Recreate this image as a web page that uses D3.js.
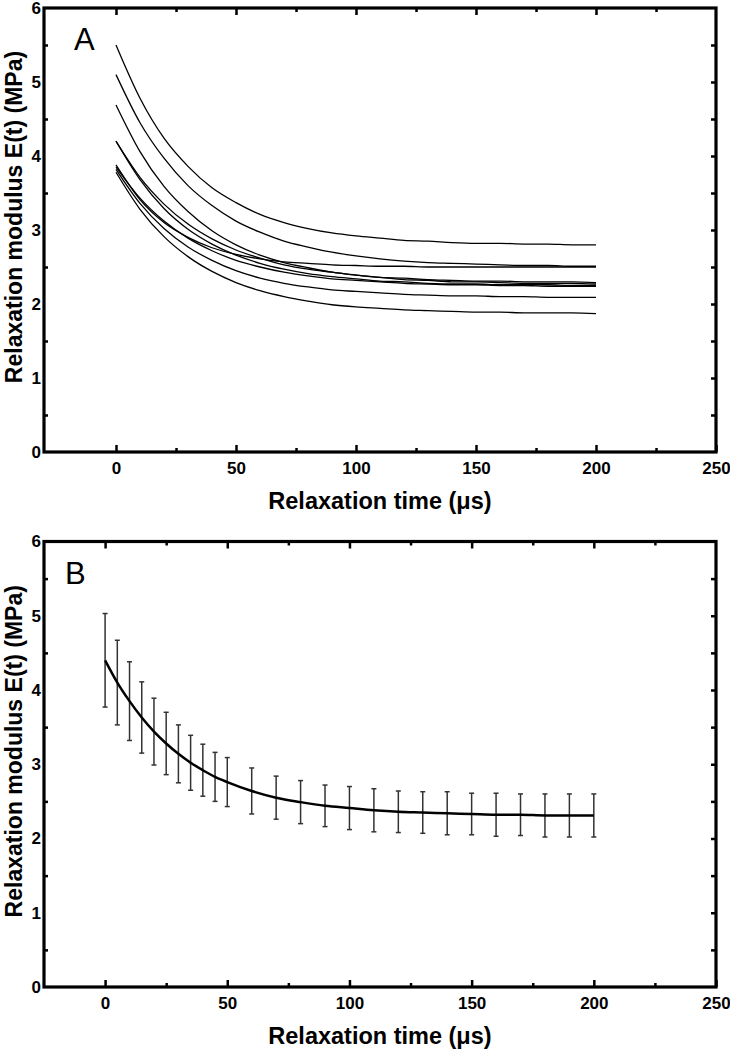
<!DOCTYPE html>
<html><head><meta charset="utf-8">
<script src="https://cdn.jsdelivr.net/npm/d3@7"></script>
<style>
body{margin:0;background:#fff}
svg{display:block}
text{font-family:"Liberation Sans",Arial,Helvetica,sans-serif}
</style>
</head><body><div id="chart"></div>
<script>
// ---------- data ----------
const timeA = [0,10,20,30,40,50,60,70,80,90,100,110,120,130,140,150,160,170,180,190,200];
const curveA1 = [5.50,4.78,4.24,3.86,3.57,3.37,3.21,3.10,3.02,2.96,2.92,2.89,2.86,2.85,2.83,2.82,2.82,2.81,2.81,2.80,2.80];
const curveA2 = [5.10,4.45,3.97,3.60,3.33,3.12,2.97,2.85,2.77,2.70,2.65,2.61,2.58,2.56,2.55,2.54,2.53,2.52,2.52,2.51,2.51];
const curveA3 = [4.69,4.06,3.59,3.25,2.99,2.80,2.66,2.56,2.49,2.43,2.39,2.36,2.33,2.32,2.30,2.30,2.29,2.28,2.28,2.28,2.27];
const curveA4 = [4.20,3.71,3.35,3.08,2.88,2.73,2.62,2.53,2.47,2.43,2.39,2.36,2.35,2.33,2.32,2.31,2.31,2.30,2.30,2.30,2.29];
const curveA5 = [4.20,3.68,3.29,3.01,2.81,2.66,2.55,2.47,2.41,2.37,2.34,2.31,2.30,2.28,2.27,2.27,2.26,2.26,2.26,2.25,2.25];
const curveA6 = [3.88,3.41,3.10,2.90,2.76,2.67,2.61,2.57,2.55,2.53,2.52,2.51,2.51,2.50,2.50,2.50,2.50,2.50,2.50,2.50,2.50];
const curveA7 = [3.85,3.43,3.12,2.89,2.72,2.59,2.50,2.43,2.38,2.34,2.32,2.30,2.28,2.27,2.26,2.26,2.25,2.25,2.24,2.24,2.24];
const curveA8 = [3.82,3.36,3.02,2.77,2.59,2.45,2.35,2.28,2.23,2.19,2.17,2.15,2.13,2.12,2.11,2.11,2.10,2.10,2.09,2.09,2.09];
const curveA9 = [3.78,3.28,2.91,2.64,2.44,2.29,2.18,2.10,2.04,1.99,1.96,1.94,1.92,1.91,1.90,1.89,1.89,1.88,1.88,1.88,1.87];
const curvesA = [curveA1,curveA2,curveA3,curveA4,curveA5,curveA6,curveA7,curveA8,curveA9];

const timeB = [0,5,10,15,20,25,30,35,40,45,50,60,70,80,90,100,110,120,130,140,150,160,170,180,190,200];
const meanB = [4.40,4.10,3.85,3.63,3.44,3.28,3.14,3.02,2.92,2.83,2.76,2.64,2.55,2.49,2.44,2.41,2.38,2.36,2.35,2.34,2.33,2.32,2.32,2.31,2.31,2.31];
const errB  = [0.63,0.57,0.53,0.48,0.45,0.42,0.39,0.37,0.35,0.33,0.33,0.31,0.29,0.29,0.28,0.29,0.29,0.28,0.28,0.29,0.28,0.29,0.28,0.29,0.29,0.29];

const xMajorTicks = [0,50,100,150,200,250];
const xMinorTicks = [25,75,125,175,225];
const yMajorTicks = [0,1,2,3,4,5,6];
const yMinorTicks = [0.5,1.5,2.5,3.5,4.5,5.5];
const yAllTicks = [0.5,1,1.5,2,2.5,3,3.5,4,4.5,5,5.5];
const xTitle = "Relaxation time (\u03bcs)";
const yTitle = "Relaxation modulus E(t) (MPa)";
const panelLabels = ["A","B"];

// ---------- drawing ----------
const W = 730, H = 1050;
const svg = d3.select("#chart").append("svg").attr("width",W).attr("height",H);
svg.append("rect").attr("width",W).attr("height",H).attr("fill","#fff");

function styleAxis(g){
  g.select(".domain").remove();
  g.selectAll(".tick line").attr("stroke","#000").attr("stroke-width",2.5);
  g.selectAll(".tick text").attr("fill","#000").attr("font-size",17).attr("font-weight","bold")
    .attr("font-family","'Liberation Sans',Arial,sans-serif");
}

function panel(cfg){
  const x = d3.scaleLinear().domain(cfg.xDomain).range([44,716]);
  const y = d3.scaleLinear().domain([0,6]).range([cfg.bottom,cfg.top]);
  const g = svg.append("g");

  g.append("g").attr("transform",`translate(0,${cfg.bottom})`)
    .call(d3.axisBottom(x).tickValues(xMajorTicks).tickSizeInner(-7).tickSizeOuter(0).tickPadding(10).tickFormat(d3.format("d")))
    .call(styleAxis);
  g.append("g").attr("transform",`translate(0,${cfg.bottom})`)
    .call(d3.axisBottom(x).tickValues(xMinorTicks).tickSizeInner(-4).tickSizeOuter(0).tickFormat(""))
    .call(styleAxis);
  g.append("g").attr("transform",`translate(0,${cfg.top})`)
    .call(d3.axisTop(x).tickValues(xMajorTicks.slice(0,5)).tickSizeInner(-7).tickSizeOuter(0).tickFormat(""))
    .call(styleAxis);
  g.append("g").attr("transform",`translate(0,${cfg.top})`)
    .call(d3.axisTop(x).tickValues(xMinorTicks).tickSizeInner(-4).tickSizeOuter(0).tickFormat(""))
    .call(styleAxis);
  g.append("g").attr("transform",`translate(44,0)`)
    .call(d3.axisLeft(y).tickValues(yMajorTicks).tickSizeInner(0).tickSizeOuter(0).tickPadding(3).tickFormat(d3.format("d")))
    .call(styleAxis);
  g.append("g").attr("transform",`translate(44,0)`)
    .call(d3.axisLeft(y).tickValues(yMinorTicks).tickSizeInner(-4).tickSizeOuter(0).tickFormat(""))
    .call(styleAxis);
  g.append("g").attr("transform",`translate(716,0)`)
    .call(d3.axisRight(y).tickValues(yAllTicks).tickSizeInner(-5).tickSizeOuter(0).tickFormat(""))
    .call(styleAxis);

  g.append("rect").attr("x",44).attr("y",cfg.top).attr("width",672).attr("height",cfg.bottom-cfg.top)
    .attr("fill","none").attr("stroke","#000").attr("stroke-width",3.2);

  g.append("text").attr("x",380).attr("y",cfg.bottom+49).attr("dy","0.35em").attr("text-anchor","middle")
    .attr("font-size",23.5).attr("font-weight","bold").text(xTitle);
  g.append("text").attr("transform",`translate(14,${(cfg.top+cfg.bottom)/2-13}) rotate(-90)`)
    .attr("dy","0.35em").attr("text-anchor","middle")
    .attr("font-size",23).attr("font-weight","bold").text(yTitle);
  g.append("text").attr("x",cfg.labelX).attr("y",cfg.top+cfg.labelDy).attr("font-size",31).text(cfg.label);

  cfg.draw(g,x,y);
}

panel({xDomain:[-30,250], top:8, bottom:452, label:panelLabels[0], labelX:74, labelDy:42,
  draw:(g,x,y)=>{
    const line = d3.line().x((d,i)=>x(timeA[i])).y(d=>y(d)).curve(d3.curveMonotoneX);
    g.selectAll(".cA").data(curvesA).join("path").attr("class","cA")
      .attr("d",line).attr("fill","none").attr("stroke","#000").attr("stroke-width",1.3);
  }});

panel({xDomain:[-25,250], top:541.5, bottom:987, label:panelLabels[1], labelX:65, labelDy:42,
  draw:(g,x,y)=>{
    const bars = g.append("g").attr("stroke","#333").attr("stroke-width",1.5);
    timeB.forEach((t,i)=>{
      const xt = x(t), y1 = y(meanB[i]+errB[i]), y2 = y(meanB[i]-errB[i]);
      bars.append("line").attr("x1",xt).attr("x2",xt).attr("y1",y1).attr("y2",y2);
      bars.append("line").attr("x1",xt-2.5).attr("x2",xt+2.5).attr("y1",y1).attr("y2",y1);
      bars.append("line").attr("x1",xt-2.5).attr("x2",xt+2.5).attr("y1",y2).attr("y2",y2);
    });
    const line = d3.line().x((d,i)=>x(timeB[i])).y(d=>y(d)).curve(d3.curveMonotoneX);
    g.append("path").datum(meanB).attr("d",line).attr("fill","none").attr("stroke","#000").attr("stroke-width",2.5);
  }});
</script>
</body></html>
